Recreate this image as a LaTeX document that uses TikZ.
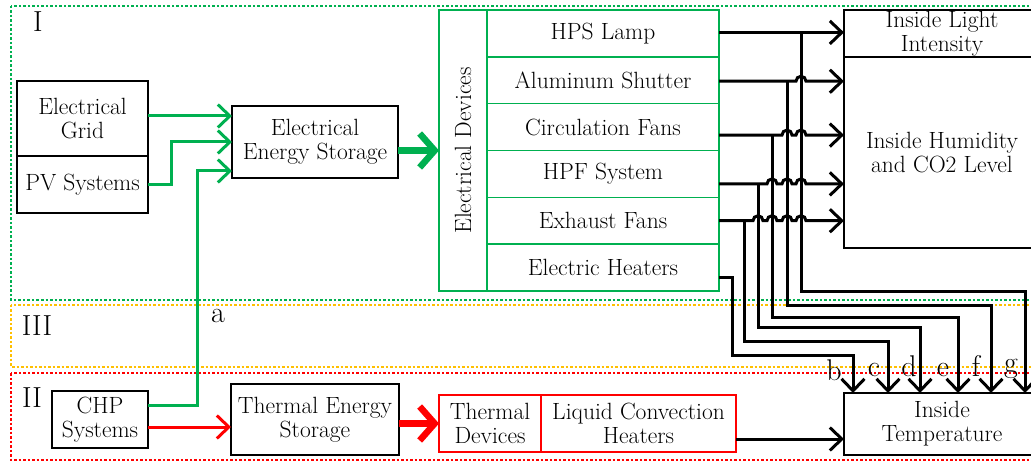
\documentclass[tikz,border=0pt]{standalone}
\usepackage{tikz}
\usetikzlibrary{arrows.meta,positioning}
\definecolor{egreen}{RGB}{0,176,80}
\definecolor{tred}{RGB}{255,0,0}
\definecolor{zorange}{RGB}{255,192,0}
\newcommand{\hop}{arc[start angle=180,end angle=0,radius=5pt]}

\begin{document}
\begin{tikzpicture}[x=1pt,y=1pt,line join=miter,
box/.style={draw,line width=1.6pt,inner sep=0pt,outer sep=0pt,align=center,font=\fontsize{23.5}{24}\selectfont},
gbox/.style={box,draw=egreen},
rbox/.style={box,draw=tred},
row/.style={gbox,minimum width=232pt,minimum height=46.83pt},
zone/.style={line width=1.5pt,dash pattern=on 2.5pt off 2pt},
num/.style={font=\fontsize{29}{30}\selectfont,anchor=base},
tag/.style={font=\fontsize{30}{32}\selectfont,anchor=base},
barrow/.style={line width=3pt,-{Straight Barb[length=12pt,width=23pt]}},
garrow/.style={barrow,draw=egreen},
rarrow/.style={barrow,draw=tred},
fat/.style={line width=6.5pt,-{Straight Barb[length=15pt,width=34pt]}}]
\useasboundingbox (0,0) rectangle (1031,-462);

% zones
\draw[zone,draw=egreen] (11,-6) rectangle (1045,-300);
\draw[zone,draw=zorange] (11,-305) rectangle (1045,-367);
\draw[zone,draw=tred] (11,-373) rectangle (1045,-460);
\node[num] (zI) at (38,-32) {I};
\node[num] (zIII) at (37,-336) {III};
\node[num] (zII) at (32,-407) {II};

% sources and storage
\node[box,minimum width=131pt,minimum height=75pt] (grid) at (82.5,-118.5) {Electrical\\Grid};
\node[box,minimum width=131pt,minimum height=57pt,below=0pt of grid] (pv) {PV Systems};
\node[box,minimum width=166pt,minimum height=72pt] (ees) at (315,-142) {Electrical\\Energy Storage};
\node[box,minimum width=96pt,minimum height=57pt] (chp) at (100,-419.5) {CHP\\Systems};
\node[box,minimum width=168pt,minimum height=71pt] (tes) at (315,-419.5) {Thermal Energy\\Storage};

% electrical devices
\node[gbox,minimum width=48pt,minimum height=281pt] (eldev) at (463,-150.5) {\rotatebox{90}{Electrical Devices}};
\node[row,anchor=north west] (lamp) at (eldev.north east) {HPS Lamp};
\node[row,below=0pt of lamp] (shutter) {Aluminum Shutter};
\node[row,below=0pt of shutter] (circ) {Circulation Fans};
\node[row,below=0pt of circ] (hpf) {HPF System};
\node[row,below=0pt of hpf] (exhaust) {Exhaust Fans};
\node[row,below=0pt of exhaust] (heater) {Electric Heaters};

% thermal devices
\node[rbox,minimum width=102pt,minimum height=57pt,anchor=north west] (thdev) at (439,-395) {Thermal\\Devices};
\node[rbox,minimum width=195pt,minimum height=57pt,right=0pt of thdev] (liquid) {Liquid Convection\\Heaters};

% climate
\node[box,minimum width=196pt,minimum height=47pt,anchor=north west] (light) at (844,-10) {Inside Light\\Intensity};
\node[box,minimum width=196pt,minimum height=191pt,below=0pt of light] (humid) {Inside Humidity\\and CO2 Level};
\node[box,minimum width=196pt,minimum height=62pt,anchor=north west] (temp) at (844,-393) {Inside\\Temperature};

\coordinate (lampout) at ([yshift=1pt]lamp.east);
\coordinate (shutout) at ([yshift=-1pt]shutter.east);
\coordinate (circout) at ([yshift=-8pt]circ.east);
\coordinate (hpfout) at ([yshift=-10pt]hpf.east);
\coordinate (exhout) at (exhaust.east);
\coordinate (heatout) at ([yshift=-10pt]heater.east);
\coordinate (chpred) at ([yshift=-7.5pt]chp.east);
\coordinate (liqout) at ([yshift=-15.5pt]liquid.east);

% power flows
\draw[garrow] ([yshift=2.5pt]grid.east) -- ([yshift=26pt]ees.west);
\draw[garrow] (pv.east) -- ++(23,0) |- (ees.west);
\draw[garrow] ([yshift=14pt]chp.east) -- ++(49,0) |- ([yshift=-29pt]ees.west);
\draw[garrow,fat] (ees.east |- eldev.west) -- (eldev.west);
\draw[rarrow] (chpred) -- (chpred -| tes.west);
\draw[rarrow,fat] (tes.east |- thdev.west) -- (thdev.west);
\draw[barrow] (liqout) -- (liqout -| temp.west);

% device outputs
\draw[barrow] (lampout) -- (lampout -| light.west);
\draw[barrow] (shutout) -- ++(77,0) \hop -- (shutout -| humid.west);
\draw[barrow] (circout) -- ++(63,0) \hop -- ++(4,0) \hop -- (circout -| humid.west);
\draw[barrow] (hpfout) -- ++(48,0) \hop -- ++(5,0) \hop -- ++(4,0) \hop -- (hpfout -| humid.west);
\draw[barrow] (exhout) -- ++(34,0) \hop -- ++(4,0) \hop -- ++(5,0) \hop -- ++(4,0) \hop -- (exhout -| humid.west);

% heat paths
\draw[barrow] (heatout) -| (732,-356) -- (853,-356) -- (853,-356 |- temp.north);
\draw[barrow] (exhout -| 744,0) |- (888,-342) -- (888,-342 |- temp.north);
\draw[barrow] (hpfout -| 758,0) |- (920,-328) -- (920,-328 |- temp.north);
\draw[barrow] (circout -| 772,0) |- (958,-318) -- (958,-318 |- temp.north);
\draw[barrow] (shutout -| 787,0) |- (991,-306) -- (991,-306 |- temp.north);
\draw[barrow] (lampout -| 801,0) |- (1025,-292) -- (1025,-292 |- temp.north);

\node[tag] (la) at (218,-323) {a};
\node[tag] (lb) at (834,-381) {b};
\node[tag] (lc) at (874,-376) {c};
\node[tag] (ld) at (909,-377) {d};
\node[tag] (le) at (943,-376) {e};
\node[tag] (lf) at (976,-376) {f};
\node[tag] (lg) at (1011,-372) {g};
\end{tikzpicture}
\end{document}
